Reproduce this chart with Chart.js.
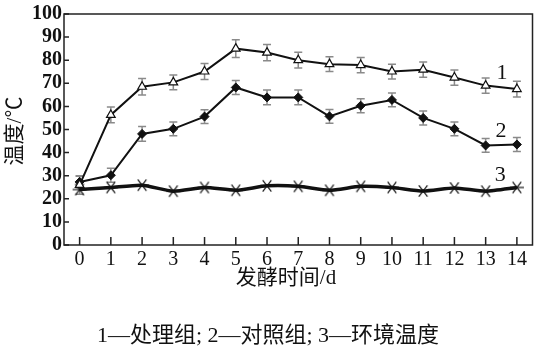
<!DOCTYPE html>
<html><head><meta charset="utf-8">
<script src="https://cdn.jsdelivr.net/npm/chart.js@4"></script>
<style>html,body{margin:0;padding:0;background:#fff}#wrap{width:543px;height:358px;position:relative}</style>
</head><body><div id="wrap"><canvas id="c" width="543" height="358"></canvas></div>
<script>
const days = ['0','1','2','3','4','5','6','7','8','9','10','11','12','13','14'];
const treatment = [26, 56.3, 68.5, 70.4, 75.1, 85, 83.3, 80, 78.3, 77.9, 75.1, 75.9, 72.5, 69, 67.5];
const treatmentErr = [4, 3.4, 3.6, 3.2, 3.5, 3.8, 3.5, 3.4, 3.2, 3.3, 3.2, 3.3, 3.3, 3.3, 3.4];
const control = [27.3, 30.2, 48.1, 50.3, 55.6, 68.2, 63.9, 63.9, 55.7, 60.3, 62.8, 55, 50.3, 43.1, 43.5];
const controlErr = [2.5, 3, 3.2, 3, 3, 3, 3.2, 3.2, 3, 3, 3, 3, 3, 3, 3];
const ambient = [24, 24.9, 25.9, 23.3, 24.9, 23.7, 25.6, 25.4, 23.7, 25.4, 24.9, 23.4, 24.7, 23.3, 24.9];
const yTicks = [0,10,20,30,40,50,60,70,80,90,100];
const seriesTags = ['1','2','3'];
const xTitle = '发酵时间/d';
const yTitle = '温度/℃';
const caption = '1—处理组; 2—对照组; 3—环境温度';

const SERIF = "'Liberation Serif','Noto Sans CJK SC',serif";

// asterisk marker
const star = document.createElement('canvas');
star.width = 16; star.height = 16;
(function(){
  const g = star.getContext('2d');
  g.strokeStyle = '#111'; g.lineWidth = 1.2;
  const cx = 8, cy = 8, r = 7;
  [0, 52, 128].forEach(a => {
    const t = a * Math.PI / 180;
    g.beginPath();
    g.moveTo(cx - r*Math.cos(t), cy - r*Math.sin(t));
    g.lineTo(cx + r*Math.cos(t), cy + r*Math.sin(t));
    g.stroke();
  });
})();

const errs = [treatmentErr, controlErr, null];

const deco = {
  id: 'deco',
  beforeDatasetsDraw(chart) {
    const ctx = chart.ctx, x = chart.scales.x, y = chart.scales.y;
    ctx.save();
    ctx.strokeStyle = '#8a8a8a'; ctx.lineWidth = 1.5;
    chart.data.datasets.forEach((ds, i) => {
      const e = errs[i]; if (!e) return;
      ds.data.forEach((v, j) => {
        const px = x.getPixelForValue(j);
        const y1 = y.getPixelForValue(v + e[j]), y2 = y.getPixelForValue(v - e[j]);
        ctx.beginPath();
        ctx.moveTo(px, y1); ctx.lineTo(px, y2);
        ctx.moveTo(px - 4, y1); ctx.lineTo(px + 4, y1);
        ctx.moveTo(px - 4, y2); ctx.lineTo(px + 4, y2);
        ctx.stroke();
      });
    });
    ctx.restore();
  },
  afterDraw(chart) {
    const ctx = chart.ctx, x = chart.scales.x, y = chart.scales.y, a = chart.chartArea;
    ctx.save();
    // frame
    ctx.strokeStyle = '#222'; ctx.lineWidth = 1.5;
    ctx.strokeRect(a.left, a.top, a.right - a.left, a.bottom - a.top);
    // inward ticks
    ctx.beginPath();
    days.forEach((d, j) => {
      const px = x.getPixelForValue(j);
      ctx.moveTo(px, a.bottom); ctx.lineTo(px, a.bottom - 8);
    });
    yTicks.forEach(v => {
      const py = y.getPixelForValue(v);
      ctx.moveTo(a.left, py); ctx.lineTo(a.left + 5, py);
    });
    ctx.stroke();
    ctx.fillStyle = '#111';
    // series tags
    ctx.font = "22px " + SERIF;
    ctx.textAlign = 'center'; ctx.textBaseline = 'middle';
    const tagPos = [[13.52, 74.3], [13.49, 49.3], [13.47, 30.2]];
    const step = x.getPixelForValue(14) - x.getPixelForValue(13);
    seriesTags.forEach((t, i) => {
      const px = x.getPixelForValue(13) + (tagPos[i][0] - 13) * step;
      ctx.fillText(t, px, y.getPixelForValue(tagPos[i][1]));
    });
    // x title
    ctx.font = "21px " + SERIF;
    ctx.fillText(xTitle, 286, 278);
    // y title
    ctx.save();
    ctx.translate(15, 131); ctx.rotate(-Math.PI/2);
    ctx.fillText(yTitle, 0, 0);
    ctx.restore();
    // caption
    ctx.font = "22px " + SERIF;
    ctx.fillText(caption, 268, 336);
    ctx.restore();
  }
};

new Chart(document.getElementById('c'), {
  type: 'line',
  data: {
    labels: days,
    datasets: [
      { data: treatment, borderColor: '#111', borderWidth: 2, pointStyle: 'triangle', pointRadius: 5, pointBackgroundColor: '#fff', pointBorderColor: '#111', pointBorderWidth: 1.2, tension: 0 },
      { data: control, borderColor: '#111', borderWidth: 2, pointStyle: 'rectRot', pointRadius: 4.5, pointBackgroundColor: '#111', pointBorderColor: '#111', pointBorderWidth: 1, tension: 0 },
      { data: ambient, borderColor: '#111', borderWidth: 3.5, pointStyle: star, pointRadius: 7, tension: 0.2 }
    ]
  },
  options: {
    responsive: false, animation: false,
    layout: { padding: { top: 13, right: 9, bottom: 63, left: 0 } },
    plugins: { legend: { display: false }, tooltip: { enabled: false } },
    scales: {
      x: {
        type: 'category', offset: true,
        grid: { display: false, drawTicks: false },
        border: { display: false },
        ticks: { color: '#111', font: { family: SERIF, size: 20 }, padding: 3, maxRotation: 0, autoSkip: false },
        afterFit(s) { s.height = 50; }
      },
      y: {
        min: 0, max: 100,
        afterBuildTicks(s) { s.ticks = yTicks.map(v => ({ value: v })); },
        grid: { display: false, drawTicks: false },
        border: { display: false },
        ticks: { color: '#111', font: { family: SERIF, size: 20, weight: 'bold' }, padding: 2, autoSkip: false },
        afterFit(s) { s.width = 64; }
      }
    }
  },
  plugins: [deco]
});
</script></body></html>
